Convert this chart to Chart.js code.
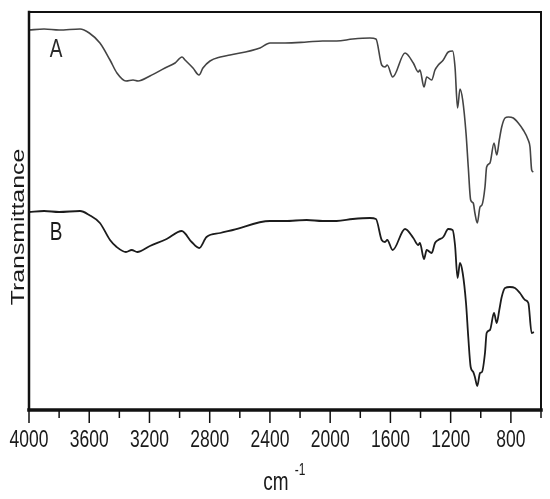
<!DOCTYPE html>
<html>
<head>
<meta charset="utf-8">
<script src="https://cdn.jsdelivr.net/npm/chart.js@4/dist/chart.umd.min.js"></script>
<style>
  body { margin: 0; background: #fff; }
  #wrap { width: 550px; height: 499px; position: relative; }
</style>
</head>
<body>
<div id="wrap"><canvas id="ftir-chart"></canvas></div>
<script>
// wavenumbers (cm-1) and transmittance (a.u.)
const waveA = [4000, 3900, 3800, 3661, 3600, 3529, 3462, 3416, 3356, 3309, 3276, 3197, 3097, 3030, 2984, 2964, 2911, 2871, 2845, 2798, 2730, 2665, 2466, 2400, 2300, 2156, 2050, 1957, 1850, 1736, 1696, 1658, 1636, 1621, 1585, 1503, 1448, 1415, 1404, 1377, 1359, 1326, 1304, 1282, 1249, 1216, 1187, 1171, 1154, 1138, 1120, 1098, 1083, 1067, 1050, 1039, 1023, 1005, 992, 972, 961, 939, 912, 894, 877, 861, 839, 817, 784, 751, 718, 685, 673, 662, 651];
const transA = [380, 381, 380, 381, 377, 367, 350, 337, 329, 330, 329, 334, 342, 347, 353, 350, 342, 335, 342, 349, 353, 355, 362, 367, 367, 368, 369, 369, 371, 372, 371, 345, 343, 345, 333, 357, 347, 338, 340, 323, 333, 330, 340, 345, 350, 358, 359, 343, 302, 321, 310, 277, 243, 210, 207, 197, 187, 203, 205, 223, 243, 247, 267, 255, 270, 283, 292, 293, 292, 287, 280, 270, 263, 240, 238];

const waveB = [4000, 3900, 3800, 3661, 3600, 3529, 3462, 3418, 3356, 3318, 3281, 3197, 3086, 2986, 2920, 2870, 2821, 2730, 2646, 2400, 2300, 2156, 2050, 1957, 1850, 1736, 1696, 1658, 1636, 1621, 1585, 1503, 1448, 1415, 1404, 1377, 1359, 1326, 1304, 1282, 1249, 1216, 1187, 1171, 1154, 1138, 1120, 1098, 1083, 1067, 1050, 1039, 1023, 1005, 992, 972, 961, 939, 912, 894, 877, 861, 839, 806, 773, 740, 706, 684, 662, 647];
const transB = [198, 199, 198, 199, 195, 187, 170, 163, 158, 160, 158, 164, 171, 179, 168, 162, 173, 177, 180, 189, 189, 190, 189, 189, 191, 192, 191, 170, 168, 170, 160, 181, 172, 165, 167, 151, 160, 157, 167, 170, 173, 181, 180, 165, 132, 147, 137, 107, 73, 43, 38, 33, 24, 37, 38, 57, 77, 80, 97, 87, 100, 113, 122, 123, 122, 117, 110, 107, 77, 78];

const seriesNames = ['A', 'B'];
const xMin = 600, xMax = 4000;
const labelStep = 400;

const toPoints = (xs, ys) => xs.map((x, i) => ({ x: x, y: ys[i] }));

// the original figure is stretched vertically, so text is too
const STRETCH = 1.38;
const FONT = '"Liberation Sans", Arial, sans-serif';

function stretchedText(ctx, text, x, y, size, opts) {
    opts = opts || {};
    ctx.save();
    ctx.translate(x, y);
    if (opts.rotate) ctx.rotate(opts.rotate);
    if (opts.rotate) ctx.scale(STRETCH, 1); else ctx.scale(1, STRETCH);
    ctx.font = size + 'px ' + FONT;
    ctx.fillStyle = opts.color || '#1a1a1a';
    ctx.textAlign = opts.align || 'center';
    ctx.textBaseline = opts.baseline || 'middle';
    ctx.fillText(text, 0, 0);
    ctx.restore();
}

const framePlugin = {
    id: 'frame',
    afterDraw(chart) {
        const { ctx, chartArea: a, scales } = chart;
        const xs = scales.x, ys = scales.y;
        ctx.save();
        ctx.strokeStyle = '#111';
        ctx.lineCap = 'square';
        // box
        ctx.lineWidth = 2;
        ctx.beginPath();
        ctx.moveTo(a.left, a.top); ctx.lineTo(a.right, a.top);
        ctx.moveTo(a.right, a.top); ctx.lineTo(a.right, a.bottom);
        ctx.stroke();
        ctx.lineWidth = 2.5;
        ctx.beginPath();
        ctx.moveTo(a.left, a.top); ctx.lineTo(a.left, a.bottom);
        ctx.stroke();
        ctx.lineWidth = 3.5;
        ctx.beginPath();
        ctx.moveTo(a.left, a.bottom); ctx.lineTo(a.right, a.bottom);
        ctx.stroke();
        // ticks, major ones labelled
        ctx.lineWidth = 1.5;
        ctx.lineCap = 'butt';
        xs.ticks.forEach(t => {
            const px = xs.getPixelForValue(t.value);
            const major = t.value % labelStep === 0;
            ctx.beginPath();
            ctx.moveTo(px, a.bottom);
            ctx.lineTo(px, a.bottom + (major ? 13 : 8));
            ctx.stroke();
            if (major) {
                stretchedText(ctx, String(t.value), px, a.bottom + 30, 17.5);
            }
        });
        ctx.restore();

        // axis titles
        stretchedText(ctx, 'cm', a.left + 247, a.bottom + 73, 19);
        stretchedText(ctx, '-1', a.left + 271, a.bottom + 60, 12);
        stretchedText(ctx, 'Transmittance', 24, a.top + 215, 18,
            { rotate: -Math.PI / 2, baseline: 'alphabetic' });

        // curve labels
        stretchedText(ctx, seriesNames[0], xs.getPixelForValue(3820), ys.getPixelForValue(360), 19, { color: '#2a2a2a' });
        stretchedText(ctx, seriesNames[1], xs.getPixelForValue(3820), ys.getPixelForValue(177), 19);
    }
};

new Chart(document.getElementById('ftir-chart'), {
    type: 'line',
    data: {
        datasets: [
            {
                label: seriesNames[0],
                data: toPoints(waveA, transA),
                borderColor: '#444',
                borderWidth: 1.6,
                pointRadius: 0,
                cubicInterpolationMode: 'monotone',
                fill: false
            },
            {
                label: seriesNames[1],
                data: toPoints(waveB, transB),
                borderColor: '#1c1c1c',
                borderWidth: 1.8,
                pointRadius: 0,
                cubicInterpolationMode: 'monotone',
                fill: false
            }
        ]
    },
    options: {
        responsive: true,
        maintainAspectRatio: false,
        animation: false,
        layout: { padding: { left: 29, right: 9, top: 12, bottom: 0 } },
        plugins: {
            legend: { display: false },
            tooltip: { enabled: false }
        },
        scales: {
            x: {
                type: 'linear',
                reverse: true,
                min: xMin,
                max: xMax,
                ticks: { stepSize: 200, display: false },
                grid: { display: false },
                border: { display: false },
                afterFit(scale) { scale.height = 89; }
            },
            y: {
                display: false,
                min: 0,
                max: 398
            }
        }
    },
    plugins: [framePlugin]
});
</script>
</body>
</html>
